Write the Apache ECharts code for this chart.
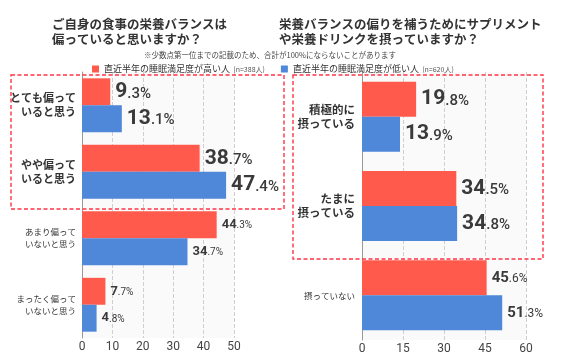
<!DOCTYPE html>
<html><head><meta charset="utf-8">
<script src="https://cdn.jsdelivr.net/npm/echarts@6/dist/echarts.min.js"></script>
<style>html,body{margin:0;padding:0;background:#fff}#c{width:564px;height:358px}</style>
</head><body><div id="c"></div>
<script>
const seriesNames = ['直近半年の睡眠満足度が高い人 (n=388人)', '直近半年の睡眠満足度が低い人 (n=620人)'];
const leftCategories = ['とても偏って\nいると思う', 'やや偏って\nいると思う', 'あまり偏って\nいないと思う', 'まったく偏って\nいないと思う'];
const leftHigh = [9.3, 38.7, 44.3, 7.7];
const leftLow = [13.1, 47.4, 34.7, 4.8];
const leftTicks = { min: 0, max: 50, interval: 10 };
const rightCategories = ['積極的に\n摂っている', 'たまに\n摂っている', '摂っていない'];
const rightHigh = [19.8, 34.5, 45.6];
const rightLow = [13.9, 34.8, 51.3];
const rightTicks = { min: 0, max: 60, interval: 15 };
const highlightCount = 2;

const RED = '#FF5A4B', BLUE = '#4F87D9';
const NUM_FONT = 'Roboto, "Noto Sans", sans-serif';
const JP_FONT = '"Noto Sans CJK JP", "Noto Sans", sans-serif';

function valueLabel(big, small) {
  return {
    show: true, position: 'right', distance: 5,
    formatter: p => {
      const s = p.value.toFixed(1);
      const [i, d] = s.split('.');
      return p.dataIndex < highlightCount ? `{B|${i}}{b|.${d}%}` : `{S|${i}}{s|.${d}%}`;
    },
    rich: {
      B: { fontFamily: NUM_FONT, fontWeight: 'bold', fontSize: big[0], color: '#3a3a3a' },
      b: { fontFamily: NUM_FONT, fontWeight: 500, fontSize: big[1], color: '#3a3a3a', padding: [4, 0, 0, 0] },
      S: { fontFamily: NUM_FONT, fontWeight: 'bold', fontSize: small[0], color: '#3a3a3a' },
      s: { fontFamily: NUM_FONT, fontSize: small[1], color: '#3a3a3a', padding: [2, 0, 0, 0] }
    }
  };
}
function catLabel(hSize, nSize, margin) {
  return {
    margin: margin, align: 'right',
    formatter: (v, idx) => {
      const tag = idx < highlightCount ? 'h' : 'n';
      return v.split('\n').map(l => `{${tag}|${l}}`).join('\n');
    },
    rich: {
      h: { fontFamily: JP_FONT, fontWeight: 'bold', fontSize: hSize, lineHeight: 14, color: '#333', align: 'right' },
      n: { fontFamily: JP_FONT, fontSize: nSize, lineHeight: 12, color: '#333', align: 'right' }
    }
  };
}
const valAxisCommon = {
  type: 'value',
  axisLine: { show: false }, axisTick: { show: false },
  splitLine: { show: true, lineStyle: { type: 'dashed', color: '#cfcfcf', width: 1 } },
  axisLabel: { fontFamily: NUM_FONT, fontSize: 12, color: '#444', margin: 3 }
};
const catAxisCommon = {
  type: 'category', inverse: true,
  axisLine: { show: true, lineStyle: { color: '#999', width: 1 } },
  axisTick: { show: false }
};

const chart = echarts.init(document.getElementById('c'), null, { renderer: 'canvas' });
chart.setOption({
  animation: false,
  backgroundColor: '#fff',
  title: [
    { text: 'ご自身の食事の栄養バランスは\n偏っていると思いますか？', left: 47, top: 12,
      textStyle: { fontFamily: JP_FONT, fontSize: 12.5, fontWeight: 'bold', color: '#333', lineHeight: 15 } },
    { text: '栄養バランスの偏りを補うためにサプリメント\nや栄養ドリンクを摂っていますか？', left: 274, top: 12,
      textStyle: { fontFamily: JP_FONT, fontSize: 12.5, fontWeight: 'bold', color: '#333', lineHeight: 15 } },
    { text: '※少数点第一位までの記載のため、合計が100%にならないことがあります', left: 139, top: 46,
      textStyle: { fontFamily: JP_FONT, fontSize: 7.5, fontWeight: 'normal', color: '#444' } }
  ],
  legend: {
    data: seriesNames, left: 87, top: 58, itemWidth: 7, itemHeight: 7, itemGap: 16, icon: 'rect',
    formatter: n => { const k = n.indexOf(' ('); return `{a|${n.slice(0, k)}} {c|${n.slice(k + 1)}}`; },
    textStyle: { rich: {
      a: { fontFamily: JP_FONT, fontSize: 9, color: '#333' },
      c: { fontFamily: JP_FONT, fontSize: 7, color: '#555' }
    } }
  },
  grid: [
    { left: 82, width: 152, top: 72, height: 266, show: true, backgroundColor: '#fafafa', borderWidth: 0 },
    { left: 362, width: 164, top: 72, height: 268, show: true, backgroundColor: '#fafafa', borderWidth: 0 }
  ],
  xAxis: [
    Object.assign({}, valAxisCommon, { gridIndex: 0 }, leftTicks),
    Object.assign({}, valAxisCommon, { gridIndex: 1 }, rightTicks)
  ],
  yAxis: [
    Object.assign({}, catAxisCommon, { gridIndex: 0, data: leftCategories, axisLabel: catLabel(11, 8.5, 6) }),
    Object.assign({}, catAxisCommon, { gridIndex: 1, data: rightCategories, axisLabel: catLabel(11.5, 8.5, 7) })
  ],
  series: [
    { name: seriesNames[0], type: 'bar', xAxisIndex: 0, yAxisIndex: 0, data: leftHigh, barGap: '0%', barCategoryGap: '19%',
      itemStyle: { color: RED }, label: valueLabel([21, 15], [13, 10]) },
    { name: seriesNames[1], type: 'bar', xAxisIndex: 0, yAxisIndex: 0, data: leftLow, barGap: '0%', barCategoryGap: '19%',
      itemStyle: { color: BLUE }, label: valueLabel([21, 15], [13, 10]) },
    { name: seriesNames[0], type: 'bar', xAxisIndex: 1, yAxisIndex: 1, data: rightHigh, barGap: '0%', barCategoryGap: '21.6%',
      itemStyle: { color: RED }, label: valueLabel([21, 15], [15, 12]) },
    { name: seriesNames[1], type: 'bar', xAxisIndex: 1, yAxisIndex: 1, data: rightLow, barGap: '0%', barCategoryGap: '21.6%',
      itemStyle: { color: BLUE }, label: valueLabel([21, 15], [15, 12]) }
  ],
  graphic: [
    { type: 'rect', shape: { x: 11, y: 75, width: 273, height: 134 }, z: 100,
      style: { fill: 'none', stroke: '#FF3344', lineWidth: 1.4, lineDash: [4, 2.5] } },
    { type: 'rect', shape: { x: 293, y: 75, width: 250, height: 184 }, z: 100,
      style: { fill: 'none', stroke: '#FF3344', lineWidth: 1.4, lineDash: [4, 2.5] } }
  ]
});
</script></body></html>
